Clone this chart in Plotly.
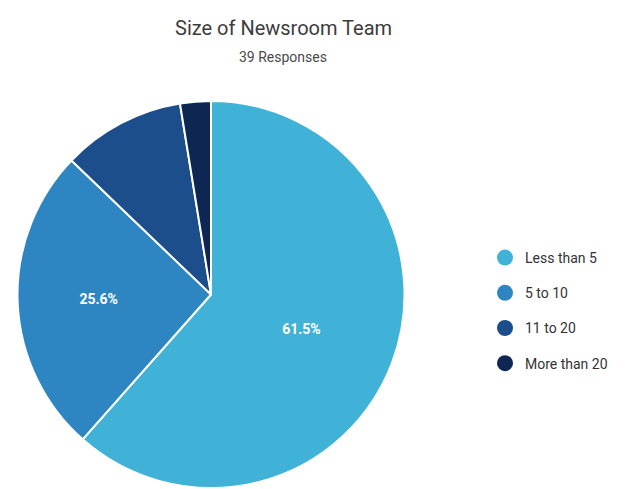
import plotly.graph_objects as go

categories = ["Less than 5", "5 to 10", "11 to 20", "More than 20"]
counts = [24, 10, 4, 1]
colors = ["#40b2d8", "#2d86c2", "#1b4e8b", "#0e2652"]
title_text = "Size of Newsroom Team"
subtitle_text = f"{sum(counts)} Responses"

total = sum(counts)
pct_text = [f"{c / total * 100:.1f}%" if c / total >= 0.15 else "" for c in counts]

W, H = 617, 481  # page body adds an 8px margin

fig = go.Figure()
fig.add_trace(go.Pie(
    labels=categories,
    values=counts,
    text=pct_text,
    texttemplate="<b>%{text}</b>",
    textposition="inside",
    insidetextorientation="horizontal",
    textfont=dict(family="Roboto", size=14, color="white"),
    marker=dict(colors=colors, line=dict(color="white", width=2)),
    sort=False,
    direction="clockwise",
    rotation=0,
    showlegend=False,
    hoverinfo="label+percent",
    domain=dict(x=[9.5 / W, 396.5 / W], y=[0, 1 - 92 / H]),
))

for i, (cat, col) in enumerate(zip(categories, colors)):
    fig.add_trace(go.Scatter(
        x=[None], y=[None], mode="markers", name=cat,
        marker=dict(color=col, size=16, symbol="circle"),
        legendgroup=f"g{i}", showlegend=True,
    ))

fig.add_annotation(text=title_text, x=275 / W, y=1 - 20 / H, xref="paper", yref="paper",
                   showarrow=False, font=dict(family="Roboto", size=20, color="#3c3c3c"),
                   xanchor="center", yanchor="middle")
fig.add_annotation(text=subtitle_text, x=275 / W, y=1 - 49 / H, xref="paper", yref="paper",
                   showarrow=False, font=dict(family="Roboto", size=14, color="#4a4a4a"),
                   xanchor="center", yanchor="middle")

fig.update_layout(
    width=W, height=H,
    margin=dict(l=0, r=0, t=0, b=0),
    paper_bgcolor="white", plot_bgcolor="white",
    xaxis=dict(visible=False), yaxis=dict(visible=False),
    legend=dict(x=477 / W, y=1 - 234 / H, xanchor="left", yanchor="top",
                font=dict(family="Roboto", size=14, color="#333333"),
                tracegroupgap=14, bgcolor="rgba(0,0,0,0)"),
)

fig.write_html("out.html")
